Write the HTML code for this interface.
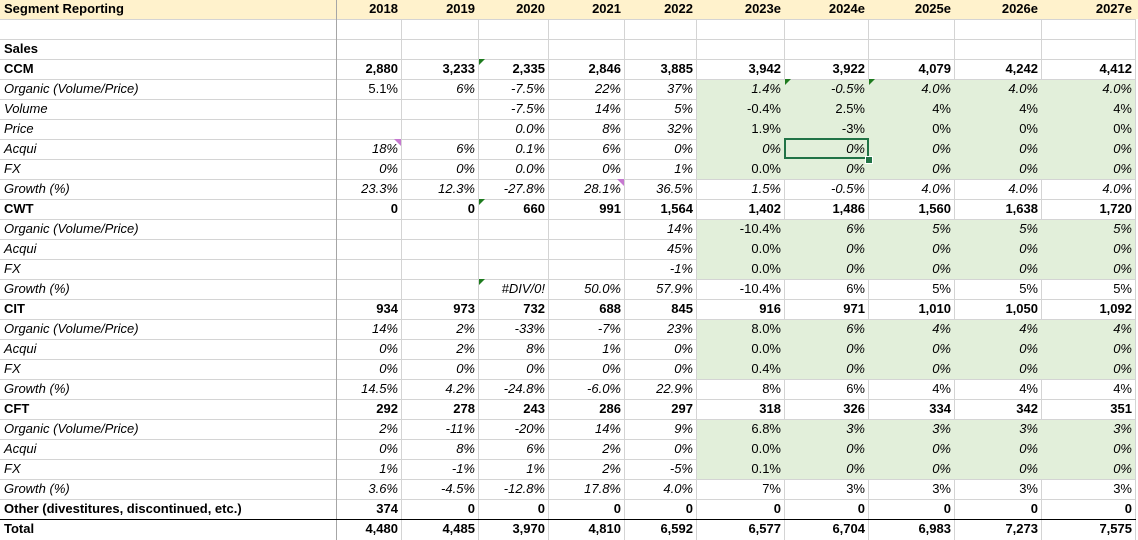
<!DOCTYPE html>
<html><head><meta charset="utf-8">
<style>
html,body{margin:0;padding:0;background:#fff}
#sheet{position:relative;width:1138px;height:540px;overflow:hidden;font-family:"Liberation Sans",sans-serif;font-size:13px;color:#000}
.c{position:absolute;box-sizing:border-box;height:20px;line-height:20px;white-space:nowrap;overflow:visible;padding:0 4px}
.r{text-align:right}
.b{font-weight:bold}
.i{font-style:italic}
.hl{position:absolute;height:1px;background:#d4d4d4}
.vl{position:absolute;width:1px;background:#d4d4d4}
.fill{position:absolute;background:#e2efda}
.tri{position:absolute;width:0;height:0}
</style></head><body>
<div id="sheet"></div>
<script>
const years=["2018","2019","2020","2021","2022","2023e","2024e","2025e","2026e","2027e"];
const rowLabels=["Sales","CCM","Organic (Volume/Price)","Volume","Price","Acqui","FX","Growth (%)","CWT","Organic (Volume/Price)","Acqui","FX","Growth (%)","CIT","Organic (Volume/Price)","Acqui","FX","Growth (%)","CFT","Organic (Volume/Price)","Acqui","FX","Growth (%)","Other (divestitures, discontinued, etc.)","Total"];
const rowStyles=["b","b","i","i","i","i","i","i","b","i","i","i","i","b","i","i","i","i","b","i","i","i","i","b","b"];
const rowGreen=[0,0,1,1,1,1,1,0,0,1,1,1,0,0,1,1,1,0,0,1,1,1,0,0,0];
const rowValues=[
["","","","","","","","","",""],
["2,880","3,233","2,335","2,846","3,885","3,942","3,922","4,079","4,242","4,412"],
["^5.1%","6%","-7.5%","22%","37%","1.4%","-0.5%","4.0%","4.0%","4.0%"],
["","","-7.5%","14%","5%","^-0.4%","^2.5%","^4%","^4%","^4%"],
["","","0.0%","8%","32%","^1.9%","^-3%","^0%","^0%","^0%"],
["18%","6%","0.1%","6%","0%","0%","0%","0%","0%","0%"],
["0%","0%","0.0%","0%","1%","^0.0%","0%","0%","0%","0%"],
["23.3%","12.3%","-27.8%","28.1%","36.5%","1.5%","-0.5%","4.0%","4.0%","4.0%"],
["0","0","660","991","1,564","1,402","1,486","1,560","1,638","1,720"],
["","","","","14%","^-10.4%","6%","5%","5%","5%"],
["","","","","45%","^0.0%","0%","0%","0%","0%"],
["","","","","-1%","^0.0%","0%","0%","0%","0%"],
["","","#DIV/0!","50.0%","57.9%","^-10.4%","^6%","^5%","^5%","^5%"],
["934","973","732","688","845","916","971","1,010","1,050","1,092"],
["14%","2%","-33%","-7%","23%","^8.0%","6%","4%","4%","4%"],
["0%","2%","8%","1%","0%","^0.0%","0%","0%","0%","0%"],
["0%","0%","0%","0%","0%","^0.4%","0%","0%","0%","0%"],
["14.5%","4.2%","-24.8%","-6.0%","22.9%","^8%","^6%","^4%","^4%","^4%"],
["292","278","243","286","297","318","326","334","342","351"],
["2%","-11%","-20%","14%","9%","^6.8%","3%","3%","3%","3%"],
["0%","8%","6%","2%","0%","^0.0%","0%","0%","0%","0%"],
["1%","-1%","1%","2%","-5%","^0.1%","0%","0%","0%","0%"],
["3.6%","-4.5%","-12.8%","17.8%","4.0%","^7%","^3%","^3%","^3%","^3%"],
["374","0","0","0","0","0","0","0","0","0"],
["4,480","4,485","3,970","4,810","6,592","6,577","6,704","6,983","7,273","7,575"]
];
const colEdges=[0,337,402,479,549,625,697,785,869,955,1042,1136];
const RH=20, TOP=40;
const sheet=document.getElementById('sheet');
function add(cls,style,text){const d=document.createElement('div');d.className=cls;Object.assign(d.style,style);if(text!==undefined)d.textContent=text;sheet.appendChild(d);return d;}
const hb=add('fill',{left:'0px',top:'0px',width:'1138px',height:'19px',background:'#fff2cc'});


rowLabels.forEach((l,r)=>{if(rowGreen[r]){const g=add('fill',{left:colEdges[6]+'px',top:(TOP+r*RH)+'px',width:(colEdges[11]-colEdges[6])+'px',height:RH+'px'});

}});
for(let r=1;r<=26;r++){const y=r*RH-1;
 for(let c=0;c<11;c++){const x0=colEdges[c],x1=colEdges[c+1];
  const rowAbove=r-3, rowBelow=r-2;
  const ga=rowAbove>=0&&rowGreen[rowAbove]&&c>=6, gb=rowBelow>=0&&rowBelow<25&&rowGreen[rowBelow]&&c>=6;
  if(ga&&gb)continue;
  const h=add('hl',{left:x0+'px',top:y+'px',width:(x1-x0)+'px'});
  
  }}
for(let c=1;c<=11;c++){const x=colEdges[c]-1;
 for(let r=0;r<27;r++){const ri=r-2;
  if(r===0&&c!==1)continue;
  const gl=ri>=0&&rowGreen[ri]&&c>=7&&c<=10;
  if(gl)continue;
  const v=add('vl',{left:x+'px',top:(r*RH)+'px',height:RH+'px',background:c===1?'#a6a6a6':'#d4d4d4'});
  
  }}
const tb=add('hl',{left:'0px',top:(TOP+24*RH-1)+'px',width:'1136px',background:'#000'});


const ht=add('c b',{left:'0px',top:'-1px',width:'337px'},'Segment Reporting');


years.forEach((y,i)=>{const d=add('c b r',{left:colEdges[i+1]+'px',top:'-1px',width:(colEdges[i+2]-colEdges[i+1])+'px'},y);

});
rowLabels.forEach((l,r)=>{const top=TOP+r*RH-1;const st=rowStyles[r];
 const lc=add('c '+st,{left:'0px',top:top+'px',width:'337px'},l);
 
 
 rowValues[r].forEach((v,i)=>{if(v==='')return;let cls='c r '+st;let t=v;
  if(v[0]==='^'){t=v.slice(1);cls='c r';}
  const d=add(cls,{left:colEdges[i+1]+'px',top:top+'px',width:(colEdges[i+2]-colEdges[i+1])+'px'},t);
  
  });});
const sel=add('fill',{left:(colEdges[7]-1)+'px',top:(TOP+5*RH-2)+'px',width:(colEdges[8]-colEdges[7]+1)+'px',height:'21px',background:'transparent',border:'2px solid #217346',boxSizing:'border-box'});


const hd=add('fill',{left:(colEdges[8]-4)+'px',top:(TOP+6*RH-4)+'px',width:'6px',height:'6px',background:'#217346',border:'1px solid #fff'});


const greenTri=[[3,1],[7,2],[8,2],[3,8],[3,12]];
greenTri.forEach(([c,r])=>{const t=add('tri',{left:(colEdges[c])+'px',top:(TOP+r*RH-1)+'px',borderTop:'6px solid #1e7b1e',borderRight:'6px solid transparent'});

});
const purpTri=[[2,5],[5,7]];
purpTri.forEach(([c,r])=>{const t=add('tri',{left:(colEdges[c]-8)+'px',top:(TOP+r*RH-1)+'px',borderTop:'7px solid #c678d0',borderLeft:'7px solid transparent'});

});
</script>
</body></html>
